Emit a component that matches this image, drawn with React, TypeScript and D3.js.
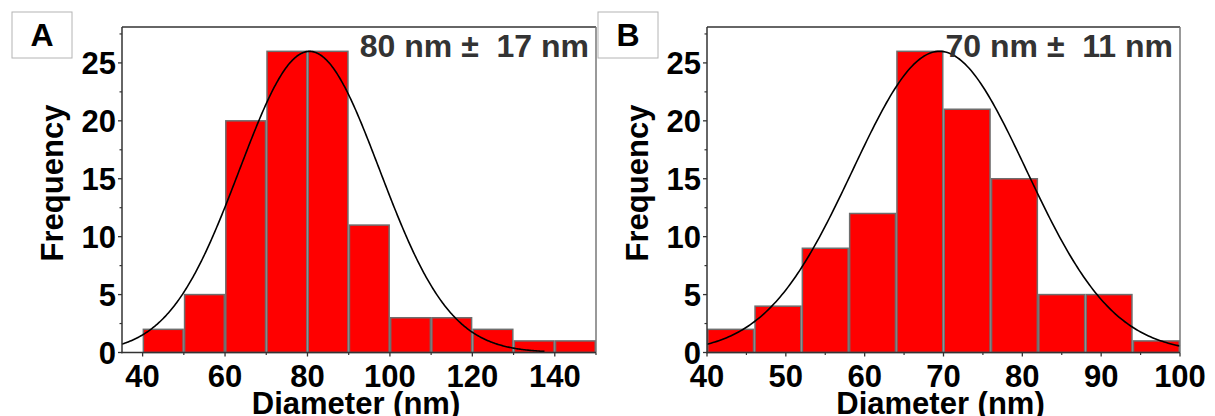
import React from 'react';
import * as d3 from 'd3';

// panel A histogram (bin starts, width 10)
const aBinStarts = [40, 50, 60, 70, 80, 90, 100, 110, 120, 130, 140];
const aCounts = [2, 5, 20, 26, 26, 11, 3, 3, 2, 1, 1];
const aBinWidth = 10;
const aXTicks = [40, 60, 80, 100, 120, 140];
const aXMinor = [50, 70, 90, 110, 130, 150];
const aFit = { mean: 80.5, sd: 17, amp: 26, from: 35, to: 137.5 };

// panel B histogram (bin starts, width 6)
const bBinStarts = [40, 46, 52, 58, 64, 70, 76, 82, 88, 94];
const bCounts = [2, 4, 9, 12, 26, 21, 15, 5, 5, 1];
const bBinWidth = 6;
const bXTicks = [40, 50, 60, 70, 80, 90, 100];
const bXMinor = [45, 55, 65, 75, 85, 95];
const bFit = { mean: 69.5, sd: 11, amp: 26, from: 40, to: 100 };

const yTicks = [0, 5, 10, 15, 20, 25];
const yMinor = [2.5, 7.5, 12.5, 17.5, 22.5, 27.5];

const FONT = '"Liberation Sans", Arial, sans-serif';

type PanelProps = {
  letter: string;
  note: string;
  left: number;
  right: number;
  xDomain: [number, number];
  binStarts: number[];
  counts: number[];
  binWidth: number;
  xTicks: number[];
  xMinor: number[];
  fit: { mean: number; sd: number; amp: number; from: number; to: number };
  boxX: number;
};

const Panel = (p: PanelProps) => {
  const top = 27;
  const bottom = 352.5;
  const x = d3.scaleLinear().domain(p.xDomain).range([p.left, p.right]);
  const y = d3.scaleLinear().domain([0, 28.1]).range([bottom, top]);

  // gaussian fit drawn from the reported mean / sd
  const pts = d3.range(p.fit.from, p.fit.to + 0.001, 0.25).map(v => [
    v,
    p.fit.amp * Math.exp(-((v - p.fit.mean) ** 2) / (2 * p.fit.sd ** 2)),
  ]);
  const line = d3.line<number[]>()
    .x(d => x(d[0]))
    .y(d => y(d[1]));

  return (
    <g>
      {/* letter box */}
      <rect x={p.boxX} y={12} width={60} height={46} fill="white" stroke="#b4b4b4" strokeWidth={1} />
      <text x={p.boxX + 30} y={46} textAnchor="middle" fontFamily={FONT} fontWeight="bold" fontSize={32} fill="#000">
        {p.letter}
      </text>

      {/* bars */}
      {p.binStarts.map((b, i) => (
        <rect key={i}
          x={x(b) + 0.75}
          y={y(p.counts[i])}
          width={x(b + p.binWidth) - x(b) - 1.5}
          height={bottom - y(p.counts[i])}
          fill="#ff0000" stroke="#6e6e6e" strokeWidth={1.5} />
      ))}

      {/* fit */}
      <path d={line(pts) || ''} fill="none" stroke="#000" strokeWidth={1.6} />

      {/* frame */}
      <line x1={p.left} x2={p.right} y1={top} y2={top} stroke="#333" strokeWidth={1.4} />
      <line x1={p.right} x2={p.right} y1={top} y2={bottom} stroke="#777" strokeWidth={1.5} />
      <line x1={p.left} x2={p.left} y1={top} y2={bottom + 0.75} stroke="#333" strokeWidth={1.5} />
      <line x1={p.left - 0.75} x2={p.right} y1={bottom} y2={bottom} stroke="#333" strokeWidth={1.5} />

      {/* y ticks */}
      {yTicks.map(t => (
        <g key={'y' + t}>
          <line x1={p.left - 4} x2={p.left} y1={y(t)} y2={y(t)} stroke="#333" strokeWidth={1.3} />
          <text x={p.left - 6} y={y(t) + 11} textAnchor="end" fontFamily={FONT} fontWeight="bold" fontSize={31} fill="#000">
            {t}
          </text>
        </g>
      ))}
      {yMinor.map(t => (
        <line key={'ym' + t} x1={p.left - 2.5} x2={p.left} y1={y(t)} y2={y(t)} stroke="#333" strokeWidth={1.2} />
      ))}

      {/* x ticks */}
      {p.xTicks.map(t => (
        <g key={'x' + t}>
          <line x1={x(t)} x2={x(t)} y1={bottom} y2={bottom + 4} stroke="#333" strokeWidth={1.3} />
          <text x={x(t)} y={bottom + 34} textAnchor="middle" fontFamily={FONT} fontWeight="bold" fontSize={31} fill="#000">
            {t}
          </text>
        </g>
      ))}
      {p.xMinor.map(t => (
        <line key={'xm' + t} x1={x(t)} x2={x(t)} y1={bottom} y2={bottom + 2.5} stroke="#333" strokeWidth={1.2} />
      ))}

      {/* axis titles */}
      <text x={(p.left + p.right) / 2 - 3} y={414} textAnchor="middle" fontFamily={FONT} fontWeight="bold" fontSize={31} fill="#000">
        Diameter (nm)
      </text>
      <text transform={`translate(${p.left - 59},183) rotate(-90)`} textAnchor="middle" fontFamily={FONT} fontWeight="bold" fontSize={31} fill="#000">
        Frequency
      </text>

      {/* mean ± sd */}
      <text x={p.right - 7} y={57} textAnchor="end" fontFamily={FONT} fontWeight="bold" fontSize={32} fill="#333" style={{ whiteSpace: 'pre' }}>
        {p.note}
      </text>
    </g>
  );
};

export default function App() {
  return (
    <svg width={1215} height={416} style={{ position: 'absolute', left: 0, top: 0, background: 'white' }}>
      <Panel letter="A" note="80 nm ±  17 nm" left={122} right={596} xDomain={[35, 150]}
        binStarts={aBinStarts} counts={aCounts} binWidth={aBinWidth}
        xTicks={aXTicks} xMinor={aXMinor} fit={aFit} boxX={12} />
      <Panel letter="B" note="70 nm ±  11 nm" left={707} right={1180} xDomain={[40, 100]}
        binStarts={bBinStarts} counts={bCounts} binWidth={bBinWidth}
        xTicks={bXTicks} xMinor={bXMinor} fit={bFit} boxX={598} />
    </svg>
  );
}
